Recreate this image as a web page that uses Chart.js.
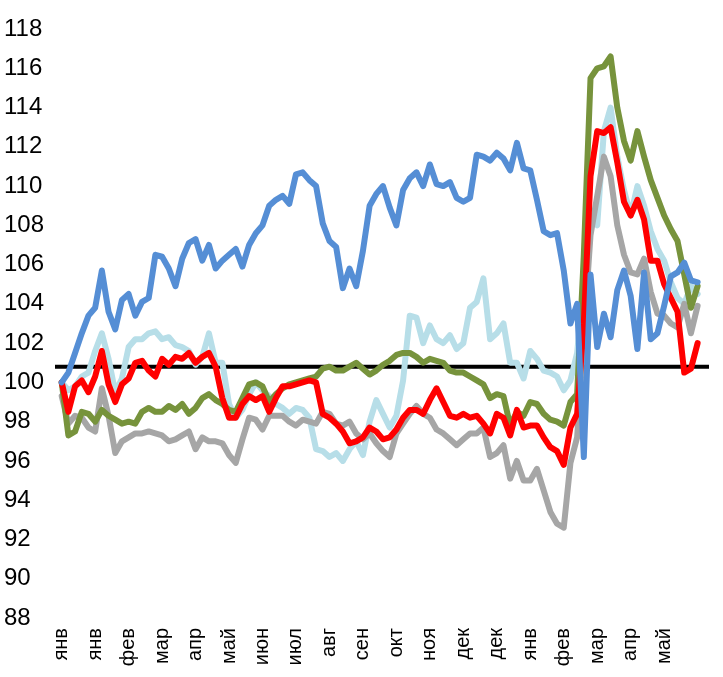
<!DOCTYPE html>
<html>
<head>
    <meta charset="utf-8">
    <title>Индексы</title>
    <script src="https://cdn.jsdelivr.net/npm/chart.js"></script>
    <style>
        html, body { margin: 0; padding: 0; background: #fff; }
        .chart-container { width: 723px; height: 677px; }
    </style>
</head>
<body>
    <div class="chart-container">
        <canvas id="lineChart"></canvas>
    </div>

    <script>
        // month tick labels, one every 5 points
        const monthTicks = ['янв', 'янв', 'фев', 'мар', 'апр', 'май', 'июн', 'июл', 'авг', 'сен',
                            'окт', 'ноя', 'дек', 'дек', 'янв', 'фев', 'мар', 'апр', 'май'];
        const tickStep = 5;

        const refLevel = 100.8;

        const blueSeries = [
            100.0, 100.5, 101.5, 102.5, 103.4, 103.8, 105.7, 103.6, 102.7, 104.2,
            104.5, 103.4, 104.1, 104.3, 106.5, 106.4, 105.8, 104.9, 106.3, 107.1,
            107.3, 106.2, 107.0, 105.8, 106.2, 106.5, 106.8, 105.9, 107.0, 107.6,
            108.0, 109.0, 109.3, 109.5, 109.1, 110.6, 110.7, 110.3, 110.0, 108.1,
            107.2, 106.9, 104.8, 105.8, 104.9, 106.7, 109.0, 109.6, 110.0, 108.9,
            108.0, 109.8, 110.4, 110.7, 110.0, 111.1, 110.1, 110.0, 110.2, 109.4,
            109.2, 109.4, 111.6, 111.5, 111.3, 111.7, 111.4, 110.8, 112.2, 110.9,
            110.8, 109.3, 107.7, 107.5, 107.6, 105.7, 103.0, 104.0, 96.2, 105.5,
            101.8, 103.5, 102.3, 104.7, 105.7, 104.4, 101.7, 105.6, 102.2, 102.5,
            103.9, 105.4, 105.6, 106.1, 105.2, 105.1
        ];

        const redSeries = [
            100.0, 98.5, 99.8, 100.1, 99.5, 100.3, 101.6, 99.9, 99.0, 99.9,
            100.2, 101.0, 101.1, 100.6, 100.3, 101.2, 100.9, 101.3, 101.2, 101.5,
            101.0, 101.3, 101.5, 100.8, 99.2, 98.2, 98.2, 98.9, 99.3, 99.1,
            99.3, 98.5, 99.2, 99.8, 99.8, 99.9, 100.0, 100.1, 100.0, 98.4,
            98.2, 97.9, 97.5, 96.9, 97.0, 97.2, 97.7, 97.5, 97.1, 97.2,
            97.6, 98.2, 98.6, 98.6, 98.4, 99.1, 99.7, 99.0, 98.3, 98.2,
            98.4, 98.2, 98.3, 97.9, 97.4, 98.4, 98.2, 97.3, 98.6, 97.7,
            97.8, 97.8, 97.2, 96.7, 96.5, 95.8, 97.7, 98.4, 103.0, 110.5,
            112.8, 112.7, 113.0, 111.2, 109.2, 108.5, 109.3, 108.3, 106.2, 106.2,
            105.0, 104.3, 103.6, 100.5, 100.7, 102.0
        ];

        const greenSeries = [
            100.0, 97.3, 97.5, 98.5, 98.4, 98.0, 98.6, 98.3, 98.1, 97.9,
            98.0, 97.9, 98.5, 98.7, 98.5, 98.5, 98.8, 98.6, 98.9, 98.4,
            98.7, 99.2, 99.4, 99.1, 98.9, 98.6, 98.5, 99.2, 99.9, 100.0,
            99.8, 99.0, 99.4, 99.7, 99.9, 100.0, 100.1, 100.2, 100.3, 100.7,
            100.8, 100.6, 100.6, 100.8, 101.0, 100.7, 100.4, 100.6, 100.9, 101.1,
            101.4, 101.5, 101.5, 101.3, 101.0, 101.2, 101.1, 101.0, 100.6, 100.5,
            100.5, 100.3, 100.1, 99.9, 99.2, 99.4, 99.3, 97.8, 98.5, 98.3,
            99.0, 98.9, 98.4, 98.1, 98.0, 97.8, 99.0, 99.4, 106.5, 115.5,
            116.0, 116.1, 116.6, 114.0, 112.3, 111.3, 112.8, 111.5, 110.3, 109.4,
            108.5, 107.8, 107.2, 105.5, 103.8, 104.9
        ];

        const graySeries = [
            99.3, 97.9, 98.3, 98.2, 97.7, 97.5, 99.7, 98.3, 96.4, 97.0,
            97.2, 97.4, 97.4, 97.5, 97.4, 97.3, 97.0, 97.1, 97.3, 97.5,
            96.6, 97.2, 97.0, 97.0, 96.9, 96.3, 95.9, 97.1, 98.2, 98.1,
            97.6, 98.3, 98.3, 98.3, 98.0, 97.8, 98.1, 98.0, 97.9, 98.5,
            98.4, 97.9, 97.8, 98.0, 97.4, 97.1, 97.4, 96.9, 96.5, 96.2,
            97.4, 97.9, 98.4, 98.8, 98.4, 98.2, 97.6, 97.4, 97.1, 96.8,
            97.1, 97.4, 97.4, 97.7, 96.2, 96.4, 96.8, 95.1, 96.0, 95.0,
            95.0, 95.6, 94.5, 93.4, 92.8, 92.6, 95.9, 97.2, 102.5, 107.5,
            109.5, 111.5, 110.5, 108.0, 106.5, 105.6, 105.5, 106.3, 104.6, 103.5,
            103.4, 103.0, 102.8, 104.0, 102.5, 103.9
        ];

        const lightBlueSeries = [
            100.0, 99.6, 99.8, 100.3, 100.5, 101.6, 102.5, 101.2, 99.5, 100.2,
            101.8, 102.2, 102.2, 102.5, 102.6, 102.2, 102.3, 101.9, 101.8, 101.6,
            100.9, 101.3, 102.5, 101.0, 101.0, 98.9, 98.2, 98.6, 99.4, 100.0,
            99.6, 99.3, 98.9, 98.7, 98.4, 98.7, 98.6, 98.2, 96.6, 96.5,
            96.2, 96.4, 96.0, 96.6, 97.0, 96.3, 98.0, 99.1, 98.4, 97.7,
            98.3, 100.1, 103.4, 103.3, 102.0, 102.9, 102.2, 102.0, 102.4, 101.7,
            102.0, 103.8, 104.1, 105.3, 102.2, 102.5, 103.0, 101.0, 101.0, 100.2,
            101.6, 101.2, 100.6, 100.5, 100.3, 99.6, 100.1, 101.5, 105.0, 108.5,
            108.0, 112.8, 114.0, 111.5, 109.8, 108.5, 110.0, 109.0, 107.7, 106.8,
            106.2, 105.1, 104.3, 104.0, 104.9, 104.5
        ];

        const xMin = -1;
        const xMax = 96.7;

        function toPoints(values) {
            return values.map((v, i) => ({ x: i, y: v }));
        }

        function lineSet(label, values, color) {
            return {
                label: label,
                data: toPoints(values),
                borderColor: color,
                backgroundColor: color,
                borderWidth: 6,
                pointRadius: 0,
                tension: 0,
                borderJoinStyle: 'round',
                borderCapStyle: 'round'
            };
        }

        const fontFamily = "'Liberation Sans Narrow', 'Arial Narrow', 'Liberation Sans', Arial, sans-serif";

        const ctx = document.getElementById('lineChart').getContext('2d');
        new Chart(ctx, {
            type: 'line',
            data: {
                datasets: [
                    lineSet('blue', blueSeries, '#558ED5'),
                    lineSet('red', redSeries, '#FF0000'),
                    lineSet('green', greenSeries, '#77933C'),
                    lineSet('gray', graySeries, '#A6A6A6'),
                    lineSet('lightblue', lightBlueSeries, '#B7DEE8'),
                    {
                        label: 'level',
                        data: [{ x: xMin, y: refLevel }, { x: xMax, y: refLevel }],
                        borderColor: '#000000',
                        borderWidth: 4,
                        pointRadius: 0
                    }
                ]
            },
            options: {
                responsive: true,
                maintainAspectRatio: false,
                animation: false,
                layout: {
                    padding: { left: 4, right: 14, top: 29, bottom: 0 }
                },
                plugins: {
                    legend: { display: false },
                    tooltip: { enabled: false }
                },
                scales: {
                    x: {
                        type: 'linear',
                        min: xMin,
                        max: xMax,
                        grid: { display: false },
                        border: { display: false },
                        afterBuildTicks: axis => {
                            axis.ticks = monthTicks.map((m, k) => ({ value: k * tickStep }));
                        },
                        afterFit: axis => { axis.height = 59; },
                        ticks: {
                            autoSkip: false,
                            minRotation: 90,
                            maxRotation: 90,
                            padding: 2,
                            color: '#000',
                            font: { family: fontFamily, size: 20 },
                            callback: value => monthTicks[Math.round(value / tickStep)] || ''
                        }
                    },
                    y: {
                        min: 88,
                        max: 118,
                        grid: { display: false },
                        border: { display: false },
                        afterFit: axis => { axis.width = 51; },
                        ticks: {
                            stepSize: 2,
                            crossAlign: 'far',
                            color: '#000',
                            font: { family: fontFamily, size: 24 }
                        }
                    }
                }
            }
        });
    </script>
</body>
</html>
